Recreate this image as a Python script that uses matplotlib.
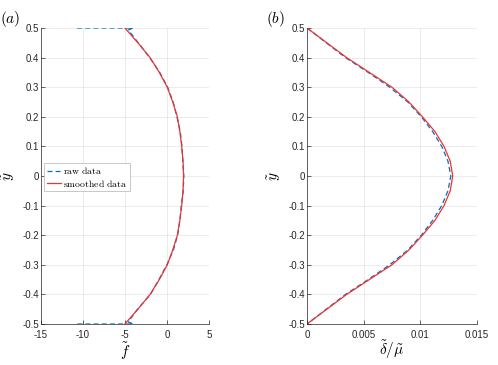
import matplotlib
matplotlib.use("Agg")
import matplotlib.pyplot as plt
from matplotlib.ticker import FuncFormatter

plt.rcParams['mathtext.fontset'] = 'cm'
plt.rcParams['font.family'] = 'Liberation Sans'
plt.rcParams['axes.unicode_minus'] = False

# panel (a): f tilde vs y tilde
y_raw_a = [0.5, 0.5, 0.493, 0.45, 0.4, 0.35, 0.3, 0.25, 0.2, 0.15, 0.1, 0.05, 0.0,
           -0.05, -0.1, -0.15, -0.2, -0.25, -0.3, -0.35, -0.4, -0.45, -0.493, -0.5, -0.5]
f_raw = [-10.7, -4.0, -4.6, -3.4, -2.05, -0.85, 0.1, 0.75, 1.2, 1.6, 1.8, 1.9, 2.02,
         1.95, 1.72, 1.55, 1.28, 0.78, 0.0, -0.95, -1.95, -3.5, -4.6, -4.0, -10.7]

y_smooth = [0.5, 0.45, 0.4, 0.35, 0.3, 0.25, 0.2, 0.15, 0.1, 0.05, 0.0,
            -0.05, -0.1, -0.15, -0.2, -0.25, -0.3, -0.35, -0.4, -0.45, -0.5]
f_smooth = [-5.0, -3.45, -2.0, -0.9, 0.05, 0.7, 1.25, 1.55, 1.77, 1.93, 1.99,
            1.93, 1.77, 1.55, 1.25, 0.7, 0.05, -0.9, -2.0, -3.45, -5.0]

# panel (b): delta/mu vs y tilde
d_raw = [0.0, 0.0017, 0.0034, 0.0054, 0.0073, 0.0089, 0.0101, 0.0111, 0.0119, 0.01245, 0.0127,
         0.01245, 0.0119, 0.0111, 0.0101, 0.0089, 0.0073, 0.0054, 0.0034, 0.0017, 0.0]
d_smooth = [0.0, 0.00175, 0.0035, 0.0055, 0.0075, 0.0090, 0.0102, 0.0113, 0.0121, 0.01265, 0.01287,
            0.01265, 0.0121, 0.0113, 0.0102, 0.0090, 0.0075, 0.0055, 0.0035, 0.00175, 0.0]

blue = (0, 0.447, 0.741)
red = (0.93, 0.2, 0.2)
axcol = '#262626'

fig = plt.figure(figsize=(4.98, 3.65), dpi=100)
ax1 = fig.add_axes([0.0823, 0.1123, 0.337, 0.811])
ax2 = fig.add_axes([0.6165, 0.1123, 0.341, 0.811])

def fmt(v, pos):
    s = ('%.3f' % v).rstrip('0').rstrip('.')
    if s in ('-0', ''):
        s = '0'
    return s

for ax in (ax1, ax2):
    ax.set_ylim(-0.5, 0.5)
    ax.set_yticks([-0.5, -0.4, -0.3, -0.2, -0.1, 0, 0.1, 0.2, 0.3, 0.4, 0.5])
    ax.spines['top'].set_visible(False)
    ax.spines['right'].set_visible(False)
    for s in ('left', 'bottom'):
        ax.spines[s].set_color(axcol)
        ax.spines[s].set_linewidth(0.5)
    ax.tick_params(direction='in', length=3, width=0.5, labelsize=7,
                   colors=axcol)
    ax.tick_params(axis='y', pad=1.5)
    ax.tick_params(axis='x', pad=4)
    ax.grid(True, color=(0.15, 0.15, 0.15), alpha=0.12, linewidth=0.5)
    ax.set_axisbelow(True)
    ax.xaxis.set_major_formatter(FuncFormatter(fmt))
    ax.yaxis.set_major_formatter(FuncFormatter(fmt))
    ax.set_ylabel(r'$\tilde{y}$', fontsize=11)
    ax.yaxis.set_label_coords(-0.14, 0.5)

ax1.set_xlim(-15, 5)
ax1.set_xticks([-15, -10, -5, 0, 5])
ax1.plot(f_raw, y_raw_a, '--', color=blue, linewidth=0.9, label=r'$\mathrm{raw\ data}$', dashes=(4, 2.5))
ax1.plot(f_smooth, y_smooth, '-', color=red, linewidth=0.9, label=r'$\mathrm{smoothed\ data}$')
ax1.set_xlabel(r'$\tilde{f}$', fontsize=11, labelpad=0.5)
leg = ax1.legend(loc='upper left', bbox_to_anchor=(0.02, 0.545), fontsize=7,
                 handlelength=1.5, handletextpad=0.2, borderpad=0.25, labelspacing=0.15,
                 borderaxespad=0, fancybox=False, framealpha=1)
leg.get_frame().set_edgecolor((0.75, 0.75, 0.75))
leg.get_frame().set_linewidth(0.6)

ax2.set_xlim(0, 0.015)
ax2.set_xticks([0, 0.005, 0.01, 0.015])
ax2.plot(d_raw, y_smooth, '--', color=blue, linewidth=0.9, dashes=(4, 2.5))
ax2.plot(d_smooth, y_smooth, '-', color=red, linewidth=0.9)
ax2.set_xlabel(r'$\tilde{\delta}/\tilde{\mu}$', fontsize=11, labelpad=-1)

fig.text(0.0, 0.975, r'$(a)$', fontsize=11, va='top', ha='left')
fig.text(0.535, 0.975, r'$(b)$', fontsize=11, va='top', ha='left')

fig.savefig('out.png', dpi=100)
